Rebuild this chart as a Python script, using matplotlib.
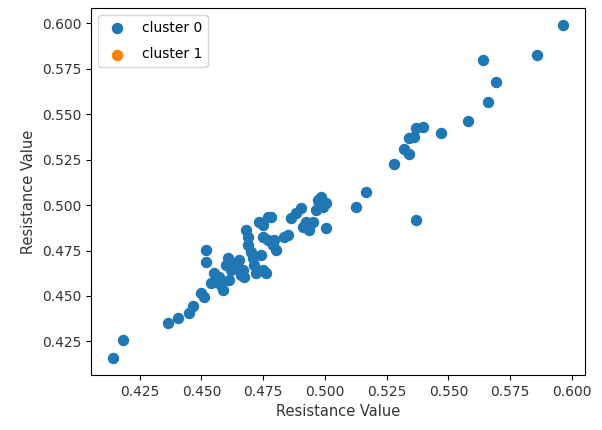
import matplotlib
matplotlib.use("Agg")
import matplotlib.pyplot as plt

x_c0 = [0.4144, 0.4184, 0.4366, 0.4406, 0.4451, 0.4467, 0.4499, 0.4511,
        0.4519, 0.4519, 0.4552, 0.4560, 0.4572, 0.4588, 0.4600, 0.4608, 0.4620, 0.4633,
        0.4653, 0.4669, 0.4673, 0.4681, 0.4689, 0.4689, 0.4701, 0.4709, 0.4713, 0.4721,
        0.4750, 0.4762, 0.4734, 0.4770, 0.4750, 0.4750, 0.4770, 0.4790, 0.4802, 0.4742,
        0.4782, 0.4794, 0.4641, 0.4661, 0.4580, 0.4540, 0.4612,
        0.4835, 0.4851, 0.4863, 0.4883, 0.4903, 0.4911, 0.4923, 0.4936, 0.4952, 0.4972,
        0.4984, 0.4992, 0.5004, 0.4964, 0.4976, 0.5004, 0.5125, 0.5166,
        0.5279, 0.5319, 0.5340, 0.5340, 0.5360, 0.5368, 0.5396, 0.5469, 0.5578, 0.5659,
        0.5691, 0.5639, 0.5857, 0.5962, 0.5368]
y_c0 = [0.4157, 0.4256, 0.4350, 0.4377, 0.4405, 0.4443, 0.4515, 0.4493,
        0.4752, 0.4686, 0.4625, 0.4576, 0.4603, 0.4532, 0.4669, 0.4708, 0.4642, 0.4680,
        0.4697, 0.4642, 0.4603, 0.4862, 0.4824, 0.4780, 0.4741, 0.4708, 0.4669, 0.4625,
        0.4642, 0.4625, 0.4906, 0.4934, 0.4890, 0.4824, 0.4807, 0.4780, 0.4752, 0.4724,
        0.4934, 0.4807, 0.4653, 0.4614, 0.4559, 0.4570, 0.4587,
        0.4824, 0.4835, 0.4928, 0.4956, 0.4983, 0.4879, 0.4906, 0.4862, 0.4906, 0.5027,
        0.5044, 0.4989, 0.5011, 0.4972, 0.5011, 0.4873, 0.4989, 0.5072,
        0.5226, 0.5308, 0.5281, 0.5369, 0.5375, 0.5424, 0.5430, 0.5397, 0.5463, 0.5567,
        0.5678, 0.5799, 0.5826, 0.5992, 0.4917]
x_c1 = []
y_c1 = []
labels = ["cluster 0", "cluster 1"]

fig = plt.figure(figsize=(6.02, 4.30), dpi=100)
ax = fig.add_axes([0.151, 0.128, 0.821, 0.853])
ax.scatter(x_c0, y_c0, s=52, color="#1f77b4", label=labels[0])
ax.scatter(x_c1, y_c1, s=52, color="#ff7f0e", label=labels[1])
ax.set_xlabel("Resistance Value", fontsize=10.5, color="#333333")
ax.set_ylabel("Resistance Value", fontsize=10.5, color="#333333")
ax.tick_params(labelsize=10, labelcolor="#333333")
ax.legend(loc="upper left", fontsize=10, labelspacing=0.9)
fig.savefig("out.png", dpi=100)
